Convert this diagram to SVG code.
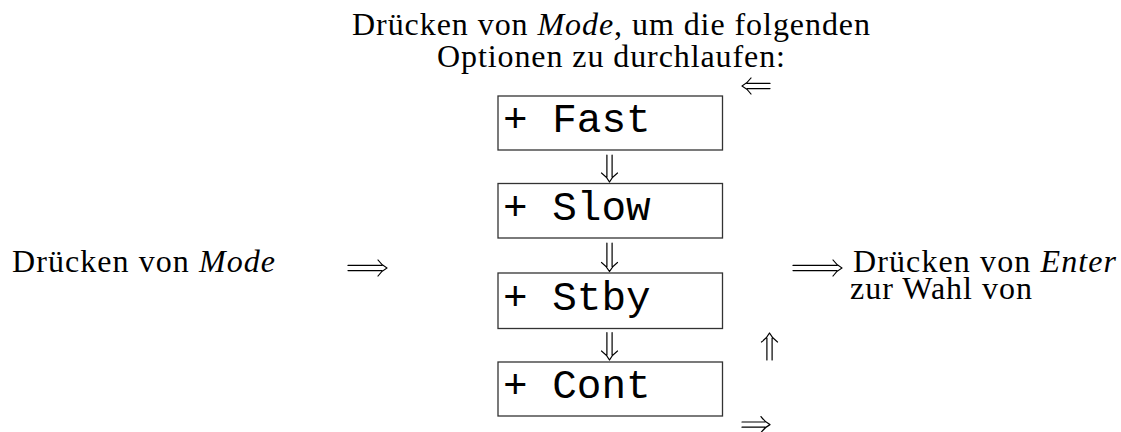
<svg xmlns="http://www.w3.org/2000/svg" width="1121" height="432" viewBox="0 0 1121 432">
  <style>
    .serif { font-family: "Liberation Serif", "Times New Roman", serif; font-size: 32px; fill: #000; }
    .it { font-style: italic; }
    .box rect { fill: #fff; stroke: #333; stroke-width: 1.3; }
    .box text { font-family: "Liberation Mono", "Courier New", monospace; font-size: 41px; fill: #000; }
    .arrows path { fill: none; stroke: #000; stroke-width: 1.2; stroke-linecap: round; stroke-linejoin: round; }
  </style>
  <rect width="1121" height="432" fill="#fff"/>

  <!-- heading -->
  <g id="heading">
    <text class="serif" x="352" y="35" textLength="518" lengthAdjust="spacing">Drücken von <tspan class="it">Mode</tspan>, um die folgenden</text>
    <text class="serif" x="437" y="67" textLength="348" lengthAdjust="spacing">Optionen zu durchlaufen:</text>
  </g>

  <!-- left label -->
  <g id="press-mode">
    <text class="serif" x="12" y="272" textLength="263" lengthAdjust="spacing">Drücken von <tspan class="it">Mode</tspan></text>
  </g>

  <!-- option boxes -->
  <g id="opt-fast" class="box">
    <rect x="498" y="96" width="224.5" height="54"/>
    <text x="503" y="132">+ Fast</text>
  </g>
  <g id="opt-slow" class="box">
    <rect x="498" y="183.5" width="224.5" height="54.5"/>
    <text x="503" y="220">+ Slow</text>
  </g>
  <g id="opt-stby" class="box">
    <rect x="498" y="273" width="224.5" height="55.5"/>
    <text x="503" y="310">+ Stby</text>
  </g>
  <g id="opt-cont" class="box">
    <rect x="498" y="362" width="224.5" height="54"/>
    <text x="503" y="398">+ Cont</text>
  </g>

  <!-- right label -->
  <g id="press-enter">
    <text class="serif" x="853" y="272" textLength="263" lengthAdjust="spacing">Drücken von <tspan class="it">Enter</tspan></text>
    <text class="serif" x="850" y="298.5" textLength="182" lengthAdjust="spacing">zur Wahl von</text>
  </g>

  <!-- double arrows -->
  <g id="connectors" class="arrows">
    <!-- into the list -->
    <path d="M348 265.4 H382 M348 270.6 H382 M378 260 Q382 265.5 387 268 Q382 270.5 378 276"/>
    <!-- out of the list -->
    <path d="M793 265.4 H837 M793 270.6 H837 M833 260 Q837 265.5 842 268 Q837 270.5 833 276"/>
    <!-- wrap back to the top -->
    <path d="M770 83.4 H747 M770 88.6 H747 M751 78 Q747 83.5 742 86 Q747 88.5 751 94"/>
    <!-- leaving the last option -->
    <path d="M742 422 H765 M742 427.2 H765 M761 416.6 Q765 422.1 770 424.6 Q765 427.1 761 432.6"/>
    <!-- going up the right side -->
    <path d="M766.9 360 V338 M772.1 360 V338 M761.5 342 Q767 338 769.5 333 Q772 338 777.5 342"/>
    <!-- between options -->
    <path d="M606.9 155 V177 M612.1 155 V177 M601.5 173 Q607 177 609.5 182 Q612 177 617.5 173"/>
    <path d="M606.9 243 V266.5 M612.1 243 V266.5 M601.5 262.5 Q607 266.5 609.5 271.5 Q612 266.5 617.5 262.5"/>
    <path d="M606.9 332.5 V355 M612.1 332.5 V355 M601.5 351 Q607 355 609.5 360 Q612 355 617.5 351"/>
  </g>
</svg>
